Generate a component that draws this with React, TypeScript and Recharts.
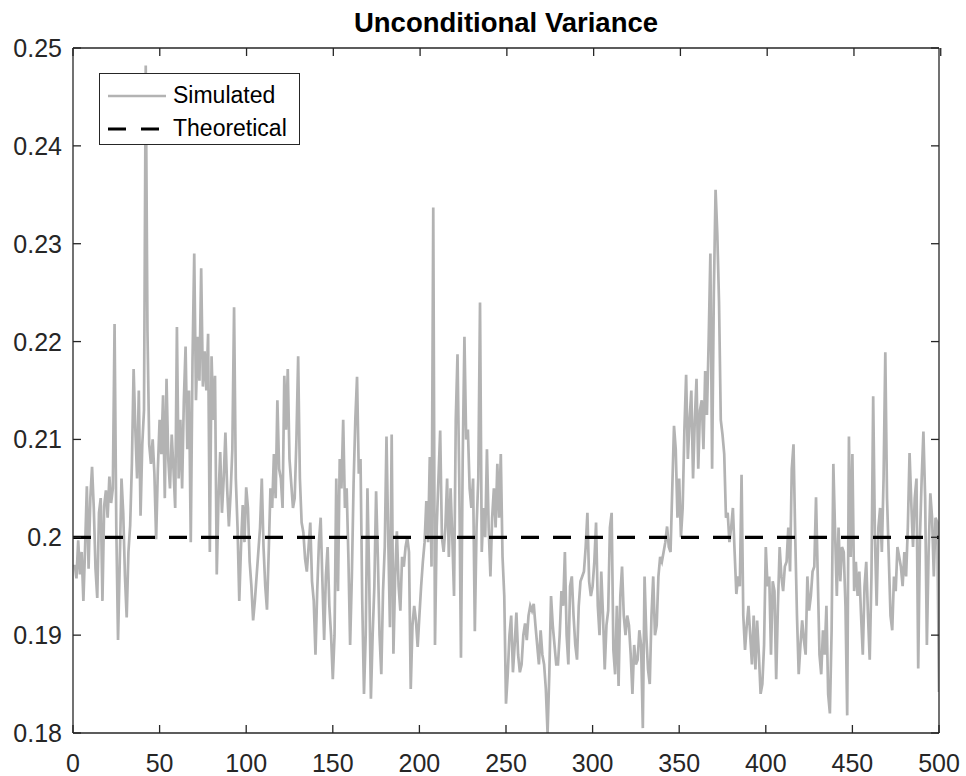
import React from "react";
import { LineChart, Line, XAxis, YAxis, Legend } from "recharts";

// simulated unconditional variance, t = 1..500
const SIM_A = [
  0.1972, 0.1958, 0.1997, 0.1962, 0.1985, 0.1935, 0.199, 0.2052, 0.1968, 0.204,
  0.2072, 0.203, 0.1968, 0.1938, 0.2025, 0.204, 0.1935, 0.2032, 0.2048, 0.202,
  0.2062, 0.2035, 0.205, 0.2218, 0.201, 0.1895, 0.1975, 0.206, 0.2025, 0.196,
  0.1918, 0.1985, 0.2012, 0.2075, 0.2172, 0.211, 0.206, 0.215, 0.2022, 0.2095,
  0.213, 0.2482, 0.221, 0.2095, 0.2075, 0.21, 0.2065, 0.1998, 0.207, 0.212,
  0.2085, 0.2145, 0.204, 0.2162, 0.208, 0.205, 0.2105, 0.207, 0.203, 0.2215,
  0.206, 0.212, 0.205, 0.214, 0.2195, 0.209, 0.215, 0.1995, 0.218, 0.229,
  0.214, 0.2205, 0.216, 0.2275, 0.2154, 0.219, 0.215, 0.2208, 0.1985, 0.2185,
  0.212, 0.2165, 0.1962, 0.204, 0.2087, 0.2025, 0.206, 0.2107, 0.205, 0.2011,
  0.2045, 0.209, 0.2235, 0.206, 0.201, 0.1935, 0.199, 0.2033, 0.1995, 0.2051,
];
const SIM_B = [
  0.203, 0.1975, 0.195, 0.1915, 0.1935, 0.196, 0.1985, 0.201, 0.206, 0.199,
  0.195, 0.1926, 0.1985, 0.205, 0.203, 0.2085, 0.204, 0.214, 0.207, 0.206,
  0.203, 0.2165, 0.211, 0.2172, 0.208, 0.2055, 0.203, 0.204, 0.21, 0.2185,
  0.206, 0.2015, 0.2005, 0.1978, 0.1965, 0.199, 0.2015, 0.1955, 0.1935, 0.188,
  0.1945, 0.1995, 0.202, 0.1955, 0.1895, 0.196, 0.199, 0.193, 0.19, 0.1855,
  0.19, 0.206, 0.1945, 0.208, 0.205, 0.212, 0.203, 0.205, 0.198, 0.189,
  0.196, 0.2055, 0.212, 0.2164, 0.2065, 0.208, 0.1935, 0.184, 0.19, 0.205,
  0.196, 0.1835, 0.19, 0.195, 0.2047, 0.198, 0.19, 0.186, 0.1945, 0.199,
  0.2103, 0.2, 0.1908, 0.2105, 0.1881, 0.196, 0.2006, 0.195, 0.1925, 0.198,
  0.197, 0.199, 0.2, 0.1985, 0.1845, 0.191, 0.193, 0.1915, 0.1888, 0.192,
];
const SIM_C = [
  0.195, 0.1975, 0.1995, 0.2037, 0.1995, 0.2082, 0.197, 0.2337, 0.189, 0.201,
  0.206, 0.2109, 0.2, 0.1985, 0.201, 0.206, 0.198, 0.205, 0.2, 0.194,
  0.212, 0.2187, 0.206, 0.1877, 0.208, 0.2205, 0.21, 0.211, 0.205, 0.203,
  0.206, 0.1904, 0.201, 0.206, 0.224, 0.1985, 0.203, 0.2, 0.209, 0.201,
  0.196, 0.202, 0.205, 0.201, 0.2075, 0.202, 0.2085, 0.198, 0.194, 0.183,
  0.186, 0.19, 0.192, 0.1862, 0.189, 0.1923, 0.188, 0.1862, 0.187, 0.19,
  0.1912, 0.1895, 0.192, 0.193, 0.1925, 0.1932, 0.191, 0.189, 0.187, 0.1905,
  0.188, 0.187, 0.1845, 0.18, 0.186, 0.194, 0.191, 0.189, 0.187, 0.187,
  0.19, 0.1945, 0.193, 0.1985, 0.19, 0.187, 0.195, 0.196, 0.192, 0.189,
  0.1875, 0.193, 0.1955, 0.196, 0.1965, 0.199, 0.2025, 0.1955, 0.194, 0.195,
];
const SIM_D = [
  0.1975, 0.2015, 0.193, 0.19, 0.1965, 0.192, 0.1865, 0.191, 0.1925, 0.201,
  0.2025, 0.1885, 0.186, 0.193, 0.1848, 0.194, 0.197, 0.192, 0.19, 0.192,
  0.191, 0.188, 0.184, 0.189, 0.187, 0.1875, 0.1905, 0.189, 0.1805, 0.196,
  0.19, 0.1865, 0.185, 0.192, 0.196, 0.19, 0.191, 0.196, 0.198, 0.1975,
  0.1985, 0.1995, 0.2011, 0.199, 0.1985, 0.205, 0.2114, 0.209, 0.202, 0.206,
  0.2, 0.203, 0.211, 0.2166, 0.208, 0.212, 0.215, 0.206, 0.212, 0.2162,
  0.207, 0.213, 0.214, 0.209, 0.217, 0.2125, 0.22, 0.229, 0.207, 0.225,
  0.2355, 0.231, 0.224, 0.212, 0.2105, 0.2085, 0.202, 0.2025, 0.1995, 0.201,
  0.203, 0.1985, 0.1942, 0.196, 0.195, 0.2064, 0.192, 0.1885, 0.191, 0.193,
  0.19, 0.187, 0.192, 0.1865, 0.1915, 0.188, 0.184, 0.185, 0.189, 0.199,
];
const SIM_E = [
  0.195, 0.196, 0.188, 0.1955, 0.1945, 0.1855, 0.193, 0.199, 0.196, 0.1945,
  0.197, 0.1975, 0.201, 0.1965, 0.207, 0.2095, 0.2, 0.192, 0.186, 0.189,
  0.1915, 0.1895, 0.188, 0.196, 0.1925, 0.194, 0.1965, 0.197, 0.2041, 0.196,
  0.188, 0.186, 0.1905, 0.188, 0.193, 0.184, 0.182, 0.1905, 0.2075, 0.2005,
  0.194, 0.201, 0.1955, 0.199, 0.1985, 0.193, 0.1818, 0.2103, 0.198, 0.2085,
  0.1945, 0.1975, 0.194, 0.1965, 0.192, 0.188, 0.195, 0.1975, 0.192, 0.1875,
  0.196, 0.2144, 0.2, 0.193, 0.201, 0.203, 0.1985, 0.206, 0.2189, 0.204,
  0.198, 0.192, 0.1905, 0.196, 0.1945, 0.199, 0.198, 0.197, 0.195, 0.1985,
  0.196, 0.201, 0.2086, 0.2035, 0.199, 0.204, 0.206, 0.1866, 0.2, 0.206,
  0.2108, 0.204, 0.189, 0.1985, 0.2045, 0.202, 0.196, 0.202, 0.2015, 0.1842,
];

const THEORETICAL = 0.2;
const X_TICKS = [0, 50, 100, 150, 200, 250, 300, 350, 400, 450, 500];
const Y_TICKS = [0.18, 0.19, 0.2, 0.21, 0.22, 0.23, 0.24, 0.25];
const SERIES_NAMES = ["Simulated", "Theoretical"];

const SIMULATED = [...SIM_A, ...SIM_B, ...SIM_C, ...SIM_D, ...SIM_E];
const data = SIMULATED.map((v, i) => ({ t: i + 1, sim: v }));
const theoData = [
  { t: X_TICKS[0], theo: THEORETICAL },
  { t: X_TICKS[X_TICKS.length - 1], theo: THEORETICAL },
];

const FONT = '"Liberation Sans", Arial, Helvetica, sans-serif';
const AXIS = "#262626";
const GRAY = "#b3b3b3";
const TICK_LEN = 8;

// MATLAB style: ticks point inward, labels outside
const BottomTick = (props: any) => {
  const { x, y, payload } = props;
  return (
    <g>
      <line x1={x} y1={y} x2={x} y2={y - TICK_LEN} stroke={AXIS} strokeWidth={1.3} />
      <text x={x} y={y + 39} textAnchor="middle" fill={AXIS} fontSize={25} fontFamily={FONT}>
        {payload.value}
      </text>
    </g>
  );
};

const TopTick = (props: any) => {
  const { x, y } = props;
  return <line x1={x} y1={y} x2={x} y2={y + TICK_LEN} stroke={AXIS} strokeWidth={1.3} />;
};

const LeftTick = (props: any) => {
  const { x, y, payload } = props;
  return (
    <g>
      <line x1={x} y1={y} x2={x + TICK_LEN} y2={y} stroke={AXIS} strokeWidth={1.3} />
      <text x={x - 11} y={y} dy="0.36em" textAnchor="end" fill={AXIS} fontSize={25} fontFamily={FONT}>
        {String(payload.value)}
      </text>
    </g>
  );
};

const RightTick = (props: any) => {
  const { x, y } = props;
  return <line x1={x} y1={y} x2={x - TICK_LEN} y2={y} stroke={AXIS} strokeWidth={1.3} />;
};

const LegendBox = () => (
  <div
    style={{
      width: 201,
      height: 72,
      boxSizing: "border-box",
      border: `1.3px solid ${AXIS}`,
      background: "#fff",
      paddingTop: 5,
      fontFamily: FONT,
      fontSize: 23,
      color: "#000",
    }}
  >
    {SERIES_NAMES.map((name, i) => (
      <div key={name} style={{ height: 33, display: "flex", alignItems: "center" }}>
        <svg width={58} height={10} style={{ marginLeft: 8, marginRight: 7 }}>
          {i === 0 ? (
            <line x1={0} y1={5} x2={58} y2={5} stroke={GRAY} strokeWidth={2.7} />
          ) : (
            <line x1={0} y1={5} x2={58} y2={5} stroke="#000" strokeWidth={3.2} strokeDasharray="18 15" />
          )}
        </svg>
        <span style={{ lineHeight: 1 }}>{name}</span>
      </div>
    ))}
  </div>
);

export default function App() {
  return (
    <div style={{ position: "absolute", left: 0, top: 0, width: 966, height: 776, background: "#fff" }}>
      <div
        style={{
          position: "absolute",
          left: 73,
          width: 866,
          top: 8.5,
          textAlign: "center",
          fontFamily: FONT,
          fontWeight: 700,
          fontSize: 27.5,
          lineHeight: 1,
          color: "#000",
        }}
      >
        Unconditional Variance
      </div>
      <LineChart width={966} height={776} data={data} margin={{ top: 47, right: 26, bottom: 8, left: 8 }}>
        <XAxis
          xAxisId="b"
          dataKey="t"
          type="number"
          domain={[0, 500]}
          ticks={X_TICKS}
          interval={0}
          allowDataOverflow
          height={35}
          tickSize={0}
          tickMargin={0}
          tickLine={false}
          axisLine={{ stroke: AXIS, strokeWidth: 1.3 }}
          tick={BottomTick}
        />
        <XAxis
          xAxisId="t"
          orientation="top"
          type="number"
          domain={[0, 500]}
          ticks={X_TICKS}
          interval={0}
          allowDataOverflow
          height={1}
          tickSize={0}
          tickMargin={0}
          tickLine={false}
          axisLine={{ stroke: AXIS, strokeWidth: 1.3 }}
          tick={TopTick}
        />
        <YAxis
          yAxisId="l"
          type="number"
          domain={[0.18, 0.25]}
          ticks={Y_TICKS}
          interval={0}
          allowDataOverflow
          width={65}
          tickSize={0}
          tickMargin={0}
          tickLine={false}
          axisLine={{ stroke: AXIS, strokeWidth: 1.3 }}
          tick={LeftTick}
        />
        <YAxis
          yAxisId="r"
          orientation="right"
          type="number"
          domain={[0.18, 0.25]}
          ticks={Y_TICKS}
          interval={0}
          allowDataOverflow
          width={1}
          tickSize={0}
          tickMargin={0}
          tickLine={false}
          axisLine={{ stroke: AXIS, strokeWidth: 1.3 }}
          tick={RightTick}
        />
        <Line
          xAxisId="b"
          yAxisId="l"
          type="linear"
          dataKey="sim"
          name={SERIES_NAMES[0]}
          stroke={GRAY}
          strokeWidth={2.7}
          dot={false}
          activeDot={false}
          isAnimationActive={false}
        />
        <Line
          xAxisId="b"
          yAxisId="l"
          type="linear"
          data={theoData}
          dataKey="theo"
          name={SERIES_NAMES[1]}
          stroke="#000"
          strokeWidth={3.2}
          strokeDasharray="18 14"
          dot={false}
          activeDot={false}
          isAnimationActive={false}
        />
        <Legend
          layout="vertical"
          verticalAlign="middle"
          align="center"
          wrapperStyle={{ left: 99, top: 73, width: 201, height: 72 }}
          content={() => <LegendBox />}
        />
      </LineChart>
    </div>
  );
}
